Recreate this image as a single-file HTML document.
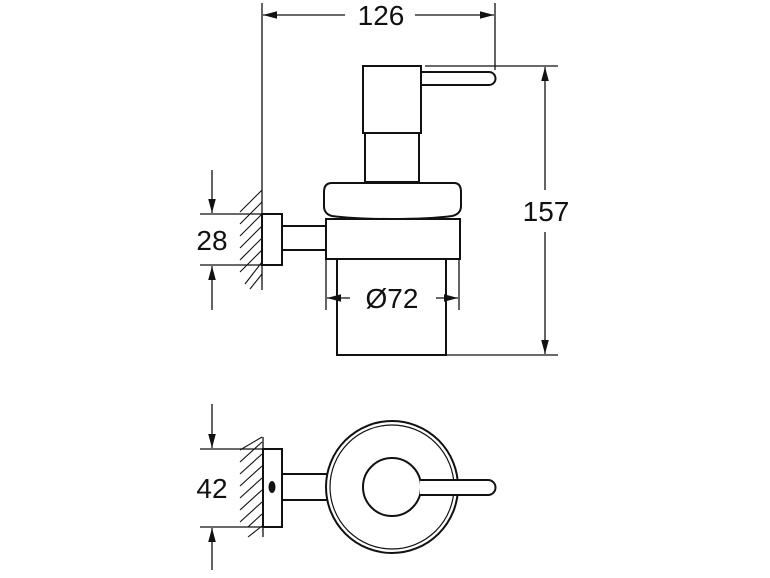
<!DOCTYPE html>
<html><head><style>
html,body{margin:0;padding:0;background:#fff;}
svg{display:block;}
text{font-family:"Liberation Sans",sans-serif;font-size:28px;fill:#111;}
</style></head><body>
<svg width="770" height="578" viewBox="0 0 770 578" xmlns="http://www.w3.org/2000/svg">
<defs>
<marker id="a" viewBox="0 0 14 10" refX="14" refY="5" markerWidth="14" markerHeight="10" markerUnits="userSpaceOnUse" orient="auto"><path d="M0,1.2 L14,5 L0,8.8 Z" fill="#111"/></marker>
</defs>
<g stroke="#111" fill="none" stroke-width="1.3">
<line x1="262" y1="3" x2="262" y2="290"/>
<line x1="495" y1="3" x2="495" y2="70"/>
<line x1="345" y1="15" x2="263" y2="15" marker-end="url(#a)"/>
<line x1="415" y1="15" x2="494" y2="15" marker-end="url(#a)"/>
<line x1="425" y1="66" x2="558" y2="66"/>
<line x1="446" y1="355" x2="558" y2="355"/>
<line x1="545" y1="190" x2="545" y2="67" marker-end="url(#a)"/>
<line x1="545" y1="232" x2="545" y2="354" marker-end="url(#a)"/>
<line x1="200" y1="214" x2="262" y2="214"/>
<line x1="200" y1="265" x2="262" y2="265"/>
<line x1="212" y1="170" x2="212" y2="213" marker-end="url(#a)"/>
<line x1="212" y1="310" x2="212" y2="266" marker-end="url(#a)"/>
<g stroke-width="1.1">
<line x1="240" y1="212" x2="262" y2="190"/>
<line x1="240" y1="224" x2="262" y2="202"/>
<line x1="240" y1="236" x2="262" y2="214"/>
<line x1="240" y1="248" x2="262" y2="226"/>
<line x1="240" y1="260" x2="262" y2="238"/>
<line x1="240" y1="272" x2="262" y2="250"/>
<line x1="245" y1="284" x2="262" y2="262"/>
<line x1="250" y1="289" x2="262" y2="274"/>
</g>
<rect x="262" y="214" width="20" height="51" stroke-width="2"/>
<rect x="282" y="226" width="44" height="24" stroke-width="2"/>
<rect x="363" y="66" width="58" height="67" stroke-width="2"/>
<path d="M421,72 L489,72 A6,6 0 0 1 489,85 L421,85" stroke-width="2"/>
<rect x="365" y="133" width="54" height="49" stroke-width="2"/>
<path d="M332,183 L454,183 Q461,183 461,192 L461,206 Q461,214 452,216 Q430,219 392,219 Q354,219 332,216 Q324,214 324,206 L324,192 Q324,183 332,183 Z" stroke-width="2"/>
<rect x="326" y="219" width="134" height="40" stroke-width="2"/>
<path d="M337,259 L337,355 L446,355 L446,259" stroke-width="2"/>
<line x1="326" y1="259" x2="326" y2="310"/>
<line x1="459" y1="259" x2="459" y2="310"/>
<line x1="350" y1="298" x2="327" y2="298" marker-end="url(#a)"/>
<line x1="436" y1="298" x2="458" y2="298" marker-end="url(#a)"/>
<line x1="263" y1="437" x2="263" y2="537"/>
<line x1="200" y1="449" x2="263" y2="449"/>
<line x1="200" y1="527" x2="263" y2="527"/>
<line x1="212" y1="404" x2="212" y2="448" marker-end="url(#a)"/>
<line x1="212" y1="570" x2="212" y2="528" marker-end="url(#a)"/>
<g stroke-width="1.1">
<line x1="240" y1="450" x2="262" y2="437"/>
<line x1="240" y1="462" x2="262" y2="442"/>
<line x1="240" y1="474" x2="262" y2="454"/>
<line x1="240" y1="486" x2="262" y2="466"/>
<line x1="240" y1="498" x2="262" y2="478"/>
<line x1="240" y1="510" x2="262" y2="490"/>
<line x1="240" y1="522" x2="262" y2="502"/>
<line x1="248" y1="527" x2="262" y2="514"/>
<line x1="248" y1="537" x2="262" y2="526"/>
</g>
<rect x="263" y="449" width="19" height="78" stroke-width="2"/>
<rect x="282" y="474" width="45" height="26" stroke-width="2"/>
<circle cx="392" cy="487" r="66" stroke-width="2" fill="#fff"/>
<circle cx="392" cy="487" r="62" stroke-width="1.2"/>
<circle cx="392" cy="487" r="29" stroke-width="2"/>
<path d="M420,480 L488,480 A7.5,7.5 0 0 1 488,495 L420,495" stroke-width="2" fill="#fff"/>
</g>
<ellipse cx="272" cy="487" rx="3.5" ry="6" fill="#111"/>
<text x="381" y="25" text-anchor="middle">126</text>
<text x="546" y="221" text-anchor="middle">157</text>
<text x="212" y="250" text-anchor="middle">28</text>
<text x="392" y="308" text-anchor="middle">Ø72</text>
<text x="212" y="498" text-anchor="middle">42</text>
</svg>
</body></html>
